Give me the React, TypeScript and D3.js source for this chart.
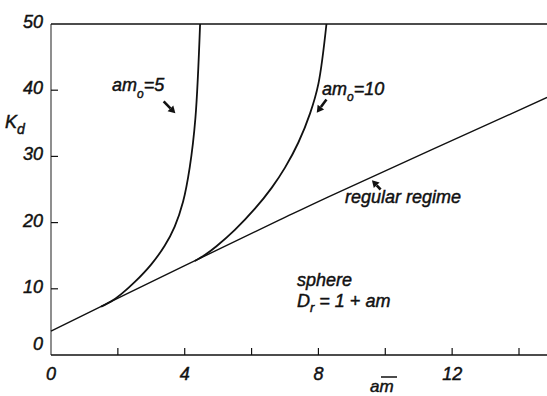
import React from 'react';
import * as d3 from 'd3';

const W = 547;
const H = 396;

// axis ticks
const xTickLabels = [0, 4, 8, 12];
const xTickMarks = [2, 4, 6, 8, 10, 12, 14];
const yTickLabels = [0, 10, 20, 30, 40, 50];
const yTickMarks = [10, 20, 30, 40];

// regular-regime line, K_d vs am
const regularAm = [0, 4, 6.84, 8.3, 14.84];
const regularK = [3.6, 13.5, 20.4, 23.9, 38.9];

// am0 = 5 branch
const am5Am = [1.5, 1.8, 2.1, 2.5, 3.0, 3.4, 3.7, 3.95, 4.15, 4.32, 4.46];
const am5K = [7.3, 8.1, 9.2, 11.0, 13.7, 16.5, 19.4, 23.15, 28.35, 35.8, 50];

// am0 = 10 branch
const am10Am = [4.3, 4.6, 4.95, 5.5, 6.1, 6.6, 7.0, 7.4, 7.75, 8.0, 8.24];
const am10K = [14.2, 15.1, 16.43, 18.9, 22.1, 25.25, 28.3, 32.1, 36.5, 41.0, 50];

const FONT = '"Liberation Sans", Arial, sans-serif';

export default function App() {
  const x = d3.scaleLinear().domain([0, 14]).range([51, 519]);
  const y = d3.scaleLinear().domain([0, 50]).range([355, 24]);

  const line = d3
    .line<[number, number]>()
    .x((d) => x(d[0]))
    .y((d) => y(d[1]))
    .curve(d3.curveCatmullRom.alpha(0.5));

  const zip = (a: number[], b: number[]) => a.map((v, i) => [v, b[i]] as [number, number]);

  const arrow = (fx: number, fy: number, tx: number, ty: number) => {
    // shaft from (fx,fy) to tip (tx,ty), both in data units
    const x0 = x(fx), y0 = y(fy), x1 = x(tx), y1 = y(ty);
    const ang = Math.atan2(y1 - y0, x1 - x0);
    const hl = 7, hw = 4;
    const bx = x1 - hl * Math.cos(ang), by = y1 - hl * Math.sin(ang);
    const px = -Math.sin(ang) * hw, py = Math.cos(ang) * hw;
    return (
      <g>
        <line x1={x0} y1={y0} x2={bx} y2={by} stroke="#111" strokeWidth={2.6} />
        <path d={`M${x1},${y1}L${bx + px},${by + py}L${bx - px},${by - py}Z`} fill="#111" />
      </g>
    );
  };

  const txt = {
    fontFamily: FONT,
    fontStyle: 'italic',
    fill: '#111',
    stroke: '#111',
    strokeWidth: 0.45,
  } as const;

  return (
    <svg width={W} height={H} style={{ position: 'absolute', left: 0, top: 0, background: '#fff' }}>
      <rect width={W} height={H} fill="#fff" />
      {/* frame */}
      <line x1={x(0)} y1={y(0)} x2={x(0)} y2={y(50)} stroke="#444" strokeWidth={1.2} />
      <line x1={x(0)} y1={y(50)} x2={W} y2={y(50)} stroke="#111" strokeWidth={1.5} />
      <line x1={x(0)} y1={y(0)} x2={W} y2={y(0)} stroke="#111" strokeWidth={1.5} />

      {yTickMarks.map((v) => (
        <line key={'yt' + v} x1={x(0)} x2={x(0) + 7} y1={y(v)} y2={y(v)} stroke="#111" strokeWidth={1.2} />
      ))}
      {xTickMarks.map((v) => (
        <line key={'xt' + v} x1={x(v)} x2={x(v)} y1={y(0)} y2={y(0) - 7} stroke="#111" strokeWidth={1.2} />
      ))}

      {yTickLabels.map((v) => (
        <text key={'yl' + v} x={43} y={y(v) + (v === 0 ? -5 : 4)} textAnchor="end" fontSize={18} {...txt}>
          {v}
        </text>
      ))}
      {xTickLabels.map((v) => (
        <text key={'xl' + v} x={x(v)} y={380} textAnchor="middle" fontSize={18} {...txt}>
          {v}
        </text>
      ))}

      {/* axis titles */}
      <text x={5} y={128} fontSize={18} {...txt}>
        K
        <tspan fontSize={14} dx={0} dy={6}>d</tspan>
      </text>
      <text x={370} y={392} fontSize={17} {...txt}>am</text>
      <line x1={381} x2={397} y1={377} y2={377} stroke="#111" strokeWidth={1.5} />

      {/* curves */}
      <path d={line(zip(regularAm, regularK)) || ''} fill="none" stroke="#111" strokeWidth={1.4} />
      <path d={line(zip(am5Am, am5K)) || ''} fill="none" stroke="#111" strokeWidth={1.8} />
      <path d={line(zip(am10Am, am10K)) || ''} fill="none" stroke="#111" strokeWidth={1.8} />

      {/* annotations */}
      <text x={112} y={91} fontSize={18} {...txt}>
        am<tspan fontSize={12} dy={7}>o</tspan>
        <tspan dy={-7}>=5</tspan>
      </text>
      {arrow(3.37, 38.3, 3.72, 36.5)}

      <text x={322} y={95} fontSize={18} {...txt}>
        am<tspan fontSize={12} dy={6}>o</tspan>
        <tspan dy={-6}>=10</tspan>
      </text>
      {arrow(8.24, 38.6, 7.95, 36.6)}

      <text x={345} y={203} fontSize={18} {...txt}>regular regime</text>
      {arrow(9.86, 25.0, 9.6, 26.4)}

      <text x={297} y={286} fontSize={18} {...txt}>sphere</text>
      <text x={297} y={307} fontSize={18} {...txt}>
        D<tspan fontSize={13} dy={5}>r</tspan>
        <tspan dy={-5}> = 1 + am</tspan>
      </text>
    </svg>
  );
}
